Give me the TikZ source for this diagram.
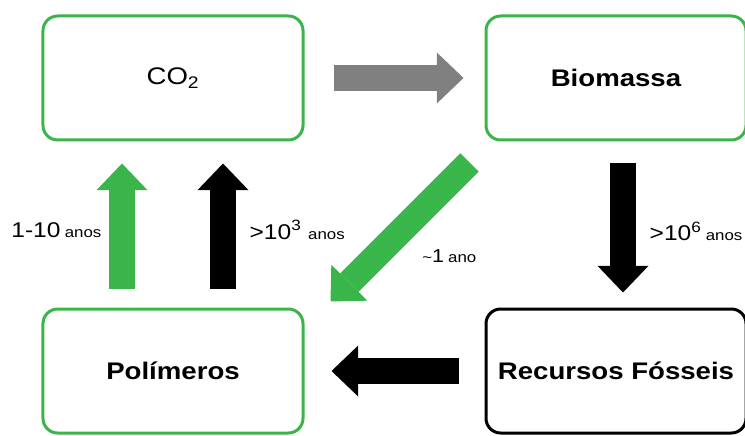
\documentclass[tikz,border=0pt]{standalone}
\usepackage{fontspec}
\setmainfont{Liberation Sans}[FakeStretch=1.15]
\usepackage{tikz}
\usetikzlibrary{arrows.meta, positioning, calc}
\definecolor{cyclegreen}{HTML}{3AB54A}
\definecolor{arrowgray}{HTML}{808080}
\tikzstyle{greenbox} = [rectangle, rounded corners=11pt, minimum width=195pt, minimum height=93pt, draw=cyclegreen, line width=2.25pt, text=black, font=\fontsize{18}{20}\selectfont\bfseries]
\tikzstyle{blackbox} = [greenbox, draw=black]
\tikzstyle{fatarrow} = [line width=19.5pt, -{Triangle[length=20pt, width=38.25pt, line width=0pt]}]
\tikzstyle{timelabel} = [inner sep=1pt, outer sep=0pt, text=black]
\newcommand{\numtext}[1]{{\fontsize{16}{18}\selectfont #1}}
\newcommand{\unittext}[1]{{\fontsize{11}{13}\selectfont #1}}

\begin{document}
\begin{tikzpicture}[node distance=124.5pt and 135pt]
    \useasboundingbox (-129.75pt,-267.75pt) rectangle (429pt,58.5pt);
    \node[greenbox, font=\fontsize{18}{20}\selectfont] (co2) {CO\textsubscript{2}};
    \node[greenbox, right=of co2] (bio) {Biomassa};
    \node[greenbox, below=of co2] (pol) {Polímeros};
    \node[blackbox, below=of bio] (fos) {Recursos Fósseis};

    \draw[fatarrow, arrowgray, shorten <=21.75pt, shorten >=15.75pt] (co2) -- (bio);
    \draw[fatarrow, black, shorten <=16.5pt, shorten >=11.25pt] ([xshift=5.25pt]bio.south) -- ([xshift=5.25pt]fos.north)
        node[timelabel, midway, anchor=west, xshift=19pt, yshift=-5pt] (t4) {\numtext{>10\textsuperscript{6}} \unittext{anos}};
    \draw[fatarrow, black, shorten <=19.5pt, shorten >=20.25pt] (fos) -- (pol);
    \draw[fatarrow, cyclegreen, shorten <=14.25pt, shorten >=16.5pt] ([xshift=-38.25pt]pol.north) -- ([xshift=-38.25pt]co2.south)
        node[timelabel, midway, anchor=east, xshift=-14.5pt, yshift=-4pt] (t1) {\numtext{1-10} \unittext{anos}};
    \draw[fatarrow, black, shorten <=14.25pt, shorten >=16.5pt] ([xshift=37.5pt]pol.north) -- ([xshift=37.5pt]co2.south)
        node[timelabel, midway, anchor=west, xshift=19pt, yshift=-4pt] (t2) {\numtext{>10\textsuperscript{3}}\hspace{5pt}\unittext{anos}};
    \draw[fatarrow, cyclegreen] ([xshift=-11.25pt, yshift=-15.75pt]bio.south west) -- ([xshift=19.5pt, yshift=4.5pt]pol.north east)
        node[timelabel, midway, xshift=37pt, yshift=-18.4pt] (t3) {\unittext{\textasciitilde}{\fontsize{14}{16}\selectfont 1}\hspace{3pt}\unittext{ano}};
\end{tikzpicture}
\end{document}
